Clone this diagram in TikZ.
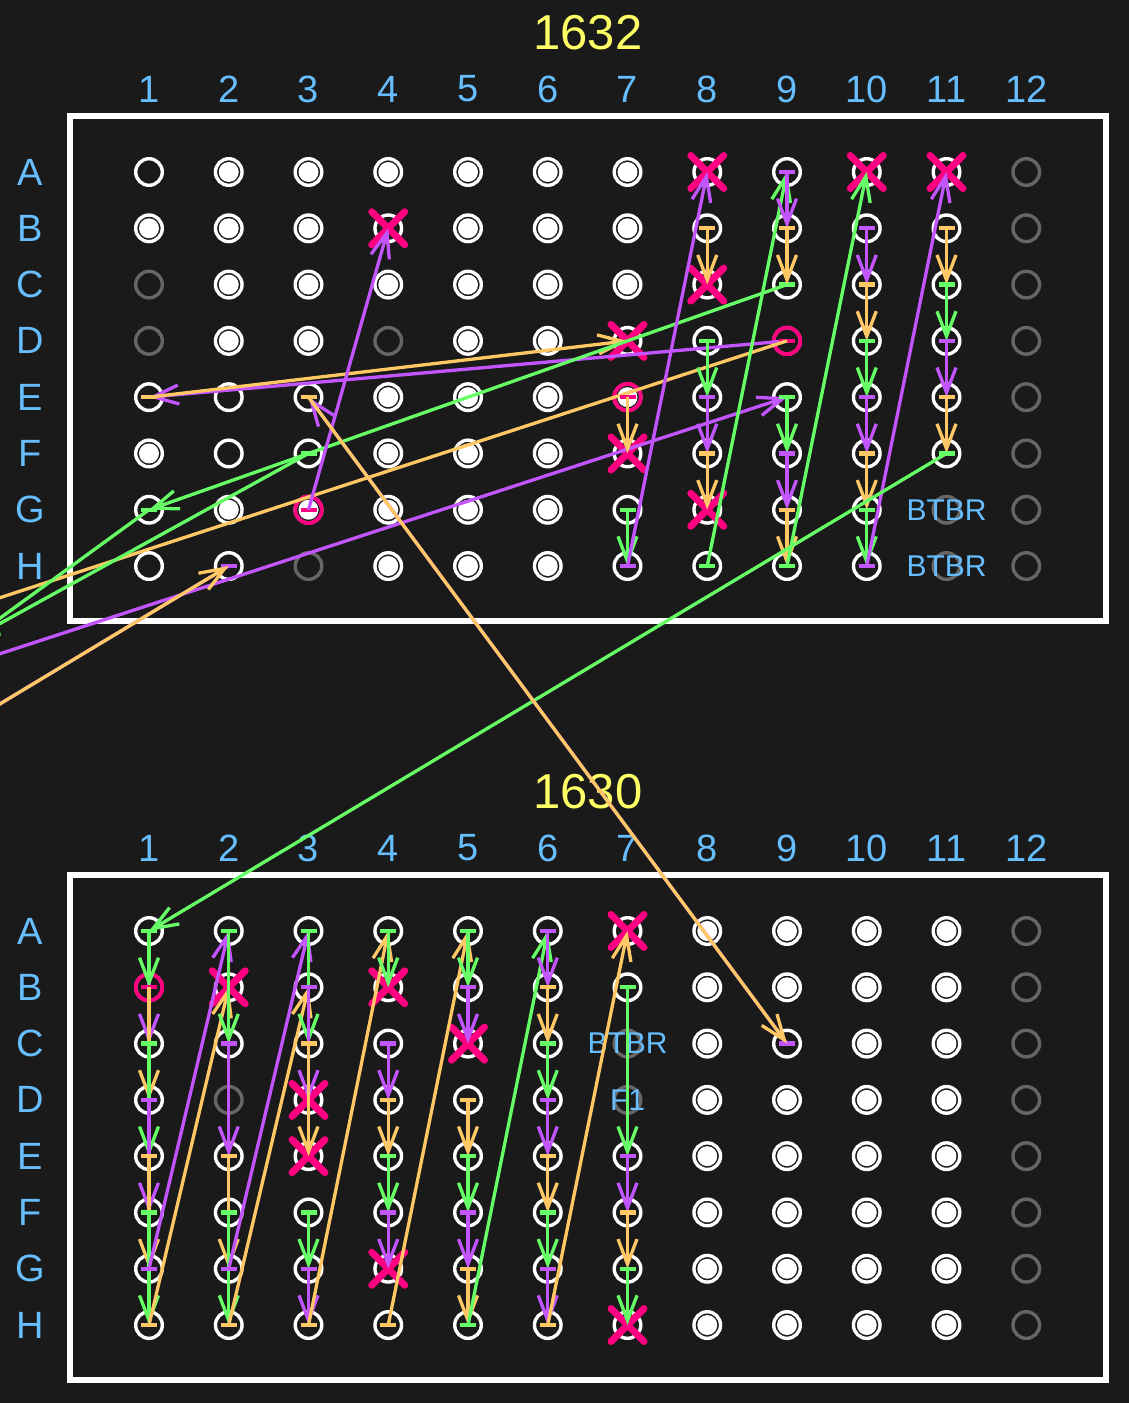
\documentclass[tikz,border=0pt]{standalone}
\usepackage{fontspec}
\setmainfont{Liberation Sans}
\usetikzlibrary{arrows.meta}
\definecolor{bgc}{RGB}{26,26,26}
\definecolor{grayc}{RGB}{102,102,102}
\definecolor{pinkc}{RGB}{255,0,128}
\definecolor{grnc}{RGB}{102,255,102}
\definecolor{purc}{RGB}{195,85,255}
\definecolor{orgc}{RGB}{255,200,100}
\definecolor{lblc}{RGB}{102,190,255}
\definecolor{ttlc}{RGB}{255,255,102}
\tikzset{
  ring/.style={draw=white, line width=3.4pt},
  gring/.style={draw=grayc, line width=3.4pt},
  pring/.style={draw=pinkc, line width=3.8pt},
  xmk/.style={draw=pinkc, line width=7pt, line cap=round},
  frame/.style={draw=white, line width=6pt},
  arr/.style={line width=3.3pt, arrows={-Straight Barb[length=25pt,width=19pt]}},
  tick/.style={line width=4.2pt},
  grn/.style={draw=grnc}, pur/.style={draw=purc}, org/.style={draw=orgc}, pnk/.style={draw=pinkc},
  lbl/.style={text=lblc, inner sep=0pt, font=\fontsize{38}{40}\selectfont},
  ttl/.style={text=ttlc, inner sep=0pt, font=\fontsize{49}{52}\selectfont},
  wtxt/.style={text=lblc, inner sep=0pt, font=\fontsize{30}{32}\selectfont}
}
% arrow from well #2 to well #3 in colour style #1, with a horizontal start tick
\newcommand{\wellarrow}[3]{\draw[tick,#1] (#2) ++(-8,0) -- ++(16,0); \draw[arr,#1] (#2) -- (#3);}
% same, but the start tick is pink
\newcommand{\wellarrowp}[3]{\draw[tick,pnk] (#2) ++(-8,0) -- ++(16,0); \draw[arr,#1] (#2) -- (#3);}
\begin{document}
\begin{tikzpicture}[x=1pt,y=-1pt]
\fill[bgc] (0,0) rectangle (1129,1403);
\useasboundingbox (0,0) rectangle (1129,1403);
\clip (0,0) rectangle (1129,1403);

% coordinates of wells
\foreach \r [count=\i from 0] in {A,B,C,D,E,F,G,H}{
  \foreach \c in {1,...,12}{
    \coordinate (t\r\c) at ({149+(\c-1)*79.75},{172+\i*56.29});
    \coordinate (b\r\c) at ({149+(\c-1)*79.75},{931+\i*56.29});
  }
}
\coordinate (offO1) at (-50,614);
\coordinate (offG) at (-30,640);
\coordinate (offP) at (-50,670);
\coordinate (offO2) at (-50,734);

% titles and labels
\node[ttl] (title1) at (588,33) {1632};
\node[ttl] (title2) at (588,792) {1630};
\foreach \c in {1,...,12}{
  \node[lbl] (tcol\c) at ({149+(\c-1)*79.75},89) {\c};
  \node[lbl] (bcol\c) at ({149+(\c-1)*79.75},848) {\c};
}
\foreach \r [count=\i from 0] in {A,B,C,D,E,F,G,H}{
  \node[lbl] (trow\r) at (30,{172+\i*56.29}) {\r};
  \node[lbl] (brow\r) at (30,{931+\i*56.29}) {\r};
}

% frames
\draw[frame] (70,116) rectangle (1106,621);
\draw[frame] (70,875) rectangle (1106,1380);

% wells
\foreach \r in {A,B,C,D,E,F,G,H}{
  \foreach \c in {1,...,12}{
    \draw[ring] (t\r\c) circle (13.3);
    \draw[ring] (b\r\c) circle (13.3);
  }
}
\foreach \w in {tA12,tB12,tC12,tD12,tE12,tF12,tG12,tH12,tC1,tD1,tD4,tH3,tG11,tH11,
                bA12,bB12,bC12,bD12,bE12,bF12,bG12,bH12,bC7,bD7,bD2}{
  \fill[bgc] (\w) circle (16);
  \draw[gring] (\w) circle (13.3);
}
\foreach \w in {tA2,tA3,tA4,tA5,tA6,tA7,tB1,tB2,tB3,tB5,tB6,tB7,tC2,tC3,tC4,tC5,tC6,tC7,
                tD2,tD3,tD5,tD6,tE4,tE5,tE6,tE7,tF1,tF4,tF5,tF6,tG2,tG3,tG4,tG5,tG6,tH4,tH5,tH6,
                bA8,bA9,bA10,bA11,bB8,bB9,bB10,bB11,bC8,bC10,bC11,bD8,bD9,bD10,bD11,
                bE8,bE9,bE10,bE11,bF8,bF9,bF10,bF11,bG8,bG9,bG10,bG11,bH8,bH9,bH10,bH11}{
  \fill[white] (\w) circle (10);
}
\foreach \w in {tD9,tE7,tG3,bB1}{
  \draw[pring] (\w) circle (13.3);
}
\foreach \w in {tA8,tA10,tA11,tB4,tC8,tD7,tF7,tG8,bA7,bB2,bB4,bC5,bD3,bE3,bG4,bH7}{
  \draw[xmk] (\w) ++(-16.5,-16.5) -- ++(33,33) (\w) ++(-16.5,16.5) -- ++(33,-33);
}

% well texts
\node[wtxt] (txtG11) at (tG11) {BTBR};
\node[wtxt] (txtH11) at (tH11) {BTBR};
\node[wtxt] (txtC7) at (bC7) {BTBR};
\node[wtxt] (txtD7) at (bD7) {F1};

% top plate arrows
\wellarrowp{pur}{tD9}{tE1}
\wellarrow{org}{tE1}{tD7}
\wellarrowp{org}{tD9}{offO1}
\wellarrow{grn}{tC9}{tG1}
\wellarrow{grn}{tG1}{offG}
\wellarrow{grn}{tF3}{offG}
\draw[arr,pur] (offP) -- (tE9);
\wellarrow{pur}{tH2}{offO2}
\draw[arr,org] (offO2) -- (tH2);
\wellarrowp{pur}{tG3}{tB4}
\wellarrowp{org}{tE7}{tF7}
\wellarrow{grn}{tG7}{tH7}
\wellarrow{pur}{tH7}{tA8}
\wellarrow{org}{tB8}{tC8}
\wellarrow{grn}{tD8}{tE8}
\wellarrow{pur}{tE8}{tF8}
\wellarrow{org}{tF8}{tG8}
\wellarrow{grn}{tH8}{tA9}
\wellarrow{pur}{tA9}{tB9}
\wellarrow{org}{tB9}{tC9}
\wellarrow{grn}{tE9}{tF9}
\wellarrow{pur}{tF9}{tG9}
\wellarrow{org}{tG9}{tH9}
\wellarrow{grn}{tH9}{tA10}
\wellarrow{pur}{tB10}{tC10}
\wellarrow{org}{tC10}{tD10}
\wellarrow{grn}{tD10}{tE10}
\wellarrow{pur}{tE10}{tF10}
\wellarrow{org}{tF10}{tG10}
\wellarrow{grn}{tG10}{tH10}
\wellarrow{pur}{tH10}{tA11}
\wellarrow{org}{tB11}{tC11}
\wellarrow{grn}{tC11}{tD11}
\wellarrow{pur}{tD11}{tE11}
\wellarrow{org}{tE11}{tF11}

% bottom plate arrows
\wellarrow{pur}{bA1}{bC1}
\wellarrow{grn}{bA1}{bB1}
\wellarrowp{org}{bB1}{bD1}
\wellarrow{grn}{bC1}{bE1}
\wellarrow{pur}{bD1}{bF1}
\wellarrow{org}{bE1}{bG1}
\wellarrow{grn}{bF1}{bH1}
\wellarrow{pur}{bG1}{bA2}
\wellarrow{org}{bH1}{bB2}
\wellarrow{grn}{bA2}{bC2}
\wellarrow{pur}{bC2}{bE2}
\wellarrow{org}{bE2}{bG2}
\wellarrow{grn}{bF2}{bH2}
\wellarrow{pur}{bG2}{bA3}
\wellarrow{org}{bH2}{bB3}
\wellarrow{grn}{bA3}{bC3}
\wellarrow{pur}{bB3}{bD3}
\wellarrow{org}{bC3}{bE3}
\wellarrow{grn}{bF3}{bG3}
\wellarrow{pur}{bG3}{bH3}
\wellarrow{org}{bH3}{bA4}
\wellarrow{grn}{bA4}{bB4}
\wellarrow{pur}{bC4}{bD4}
\wellarrow{org}{bD4}{bE4}
\wellarrow{grn}{bE4}{bF4}
\wellarrow{pur}{bF4}{bG4}
\wellarrow{org}{bH4}{bA5}
\wellarrow{grn}{bA5}{bB5}
\wellarrow{pur}{bB5}{bC5}
\wellarrow{org}{bD5}{bE5}
\wellarrow{grn}{bE5}{bF5}
\wellarrow{pur}{bF5}{bG5}
\wellarrow{org}{bG5}{bH5}
\wellarrow{grn}{bH5}{bA6}
\wellarrow{pur}{bA6}{bB6}
\wellarrow{org}{bB6}{bC6}
\wellarrow{grn}{bC6}{bD6}
\wellarrow{pur}{bD6}{bE6}
\wellarrow{org}{bE6}{bF6}
\wellarrow{grn}{bF6}{bG6}
\wellarrow{pur}{bG6}{bH6}
\wellarrow{org}{bH6}{bA7}
\wellarrow{grn}{bB7}{bE7}
\wellarrow{pur}{bE7}{bF7}
\wellarrow{org}{bF7}{bG7}
\wellarrow{grn}{bG7}{bH7}

% long arrows between plates
\wellarrow{grn}{tF11}{bA1}
\wellarrow{pur}{bC9}{tE3}
\wellarrow{org}{tE3}{bC9}
\end{tikzpicture}
\end{document}
